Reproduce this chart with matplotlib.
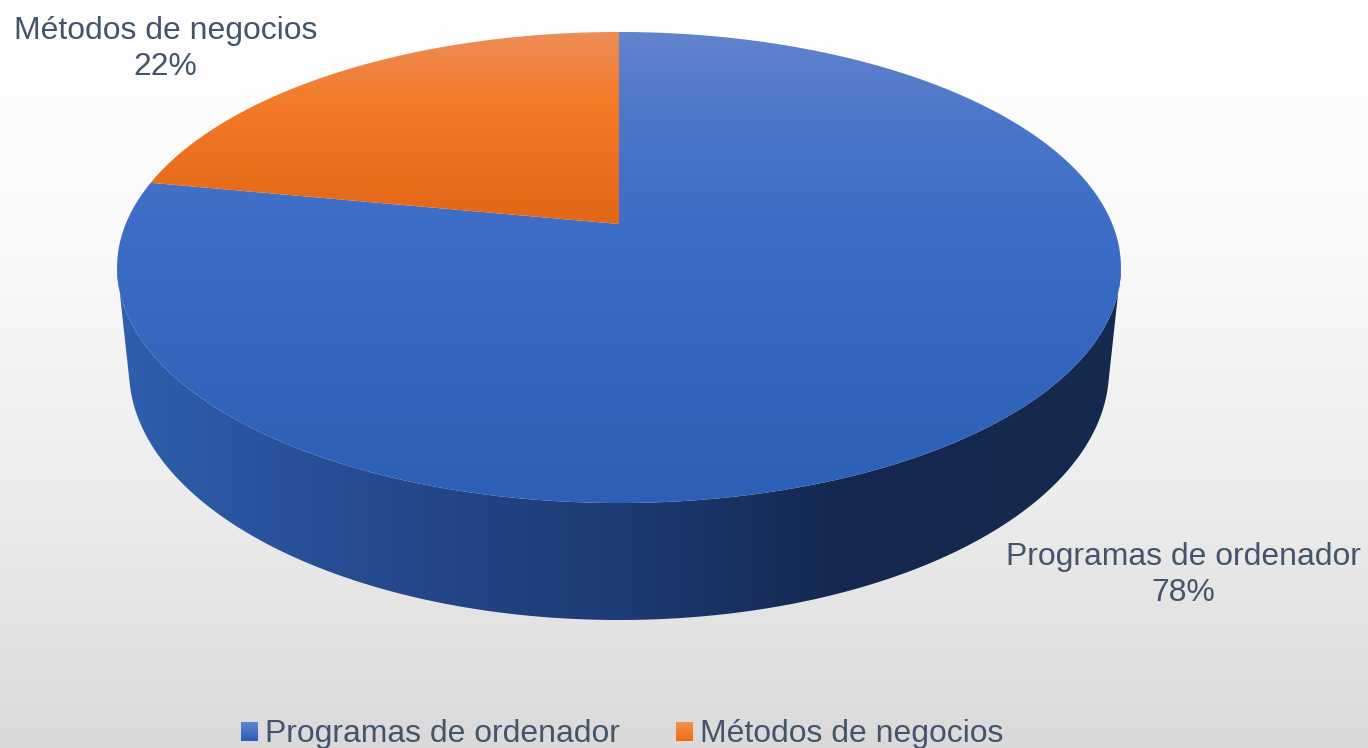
import numpy as np
import matplotlib
matplotlib.use('Agg')
from matplotlib import pyplot as plt
from matplotlib.patches import Patch, Polygon
from matplotlib.colors import to_rgb

labels = ['Programas de ordenador', 'Métodos de negocios']
values = [78, 22]
top_stops = [
    [(32, '#6383cd'), (120, '#4c76c9'), (225, '#3d6dc7'), (503, '#2c5fb6')],
    [(32, '#ee8d58'), (105, '#f37a28'), (224, '#e26617')],
]
swatch_stops = [
    [(0, '#5f85d2'), (1, '#2c5fb6')],
    [(0, '#f4914f'), (1, '#ee6c14')],
]
wall_stops = [(117, '#2f5fae'), (400, '#25488c'), (620, '#1d3b74'), (850, '#14274e'), (1121, '#16294e')]
bg_stops = [(0, '#ffffff'), (240, '#fafafa'), (520, '#ebebeb'), (748, '#dadada')]
text_color = '#44546a'

plt.rcParams['font.family'] = ['Liberation Sans', 'DejaVu Sans']

fig = plt.figure(figsize=(13.68, 7.48), dpi=100)
ax = fig.add_axes([0, 0, 1, 1])
ax.axis('off')
ax.set_xlim(0, 1368)
ax.set_ylim(748, 0)


def ramp(stops, lo, hi):
    t = np.linspace(lo, hi, 512)
    pos = [s[0] for s in stops]
    rgb = np.array([to_rgb(s[1]) for s in stops])
    return np.stack([np.interp(t, pos, rgb[:, i]) for i in range(3)], axis=-1)


def gradient(verts, stops, horizontal=False, z=2):
    # gradient image clipped to a polygon
    xs, ys = verts[:, 0], verts[:, 1]
    if horizontal:
        img = ramp(stops, xs.min(), xs.max())[np.newaxis, :, :]
    else:
        img = ramp(stops, ys.min(), ys.max())[:, np.newaxis, :]
    im = ax.imshow(img, extent=(xs.min(), xs.max(), ys.max(), ys.min()),
                   aspect='auto', zorder=z, interpolation='bilinear')
    poly = Polygon(verts, closed=True, transform=ax.transData, fc='none', ec='none')
    ax.add_patch(poly)
    im.set_clip_path(poly)


# perspective of the top disc, angle runs clockwise from 12 o'clock
cx, apex_y = 619, 224
k, a, b = 0.1847, 493.3, -186.1


def rim(theta):
    w = 1 + k * np.cos(theta)
    return np.column_stack([cx + a * np.sin(theta) / w,
                            (b * np.cos(theta) + apex_y) / w])


# background
ax.imshow(ramp(bg_stops, 0, 748)[:, np.newaxis, :], extent=(0, 1368, 748, 0),
          aspect='auto', zorder=0)

# side wall
full = np.linspace(0, 2 * np.pi, 720)
top_edge = rim(full)
front = top_edge[(top_edge[:, 1] >= 262)]
front = front[np.argsort(-front[:, 0])]
t = np.linspace(np.pi + 0.06, 2 * np.pi - 0.06, 300)
low_edge = np.column_stack([619 + 490 * np.cos(t), 370 - 250 * np.sin(t)])
wall = np.vstack([front, low_edge])
gradient(wall, wall_stops, horizontal=True, z=2)

# top face, one wedge per value
fractions = np.array(values) / sum(values)
edges = np.concatenate([[0], np.cumsum(fractions)]) * 2 * np.pi
for i in range(len(values)):
    th = np.linspace(edges[i], edges[i + 1], 400)
    verts = np.vstack([[cx, apex_y], rim(th)])
    gradient(verts, top_stops[i], z=3)

# data labels
label_pos = [(1183, 575), (165.5, 49)]
for name, v, (x, y) in zip(labels, values, label_pos):
    ax.text(x, y, f'{name}\n{v}%', ha='center', va='center', fontsize=22.95,
            color=text_color, linespacing=1.27, zorder=4)

# legend
handles = [Patch(fc=s[-1][1], ec='none') for s in top_stops]
leg = ax.legend(handles, labels, ncol=2, loc='lower center', bbox_to_anchor=(0.4547, -0.002),
                frameon=False, fontsize=22.95, labelcolor=text_color, handlelength=0.53,
                handleheight=0.53, handletextpad=0.22, columnspacing=1.76,
                borderpad=0, borderaxespad=0)
fig.canvas.draw()
inv = ax.transData.inverted()
for p, stops in zip(leg.get_patches(), swatch_stops):
    bb = p.get_window_extent()
    (x0, y0), (x1, y1) = inv.transform([(bb.x0, bb.y0), (bb.x1, bb.y1)])
    ax.imshow(ramp(stops, 0, 1)[:, np.newaxis, :], extent=(x0, x1, y0, y1), aspect='auto', zorder=6)

ax.set_xlim(0, 1368)
ax.set_ylim(748, 0)
fig.savefig('out.png', dpi=100)
